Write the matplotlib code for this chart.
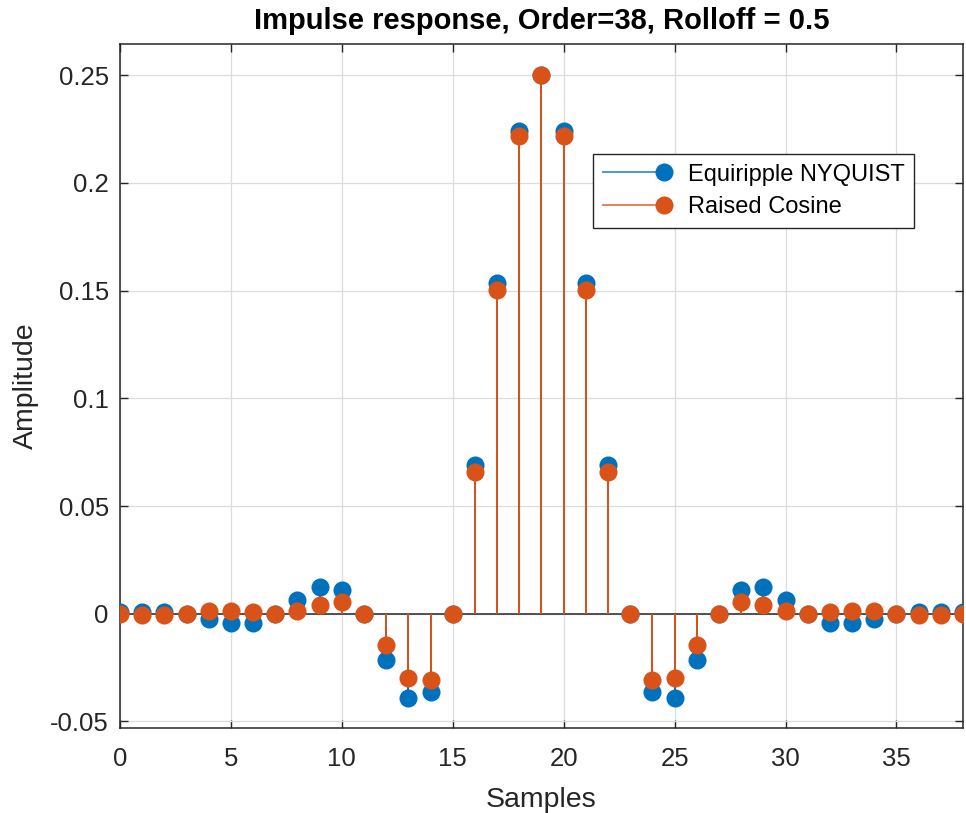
import numpy as np
import matplotlib.pyplot as plt
from matplotlib.lines import Line2D
from matplotlib.legend_handler import HandlerLine2D

plt.rcParams['font.family'] = ['Liberation Sans', 'DejaVu Sans']

# sample index and the two impulse responses
samples = np.arange(39)
equiripple = [0.0008, 0.0008, 0.0006, 0.0, -0.0025, -0.0044, -0.0041, 0.0, 0.0065, 0.0124,
              0.0112, 0.0, -0.0216, -0.0391, -0.0365, 0.0, 0.0692, 0.1535, 0.2242, 0.2500,
              0.2242, 0.1535, 0.0692, 0.0, -0.0365, -0.0391, -0.0216, 0.0, 0.0112, 0.0124,
              0.0065, 0.0, -0.0041, -0.0044, -0.0025, 0.0, 0.0006, 0.0008, 0.0008]
raised_cos = [-0.0002, -0.0006, -0.0007, 0.0, 0.0011, 0.0014, 0.0007, 0.0, 0.0012, 0.0043,
              0.0057, 0.0, -0.0144, -0.0300, -0.0306, 0.0, 0.0656, 0.1501, 0.2218, 0.2500,
              0.2218, 0.1501, 0.0656, 0.0, -0.0306, -0.0300, -0.0144, 0.0, 0.0057, 0.0043,
              0.0012, 0.0, 0.0007, 0.0014, 0.0011, 0.0, -0.0007, -0.0006, -0.0002]

blue = '#0072BD'
orange = '#D95319'
dark = '#262626'

fig = plt.figure(figsize=(9.66, 8.13), dpi=100)
ax = fig.add_axes([0.1242, 0.1046, 0.8727, 0.8413])

z = 2
for vals, col in [(equiripple, blue), (raised_cos, orange)]:
    ax.vlines(samples, 0, vals, color=col, linewidth=1.4, zorder=z)
    ax.plot(samples, vals, 'o', color=col, markersize=13, markeredgewidth=0, zorder=z + 1)
    z += 2
ax.axhline(0, color=dark, linewidth=1.1, zorder=1.5)

ax.set_xlim(0, 38)
ax.set_ylim(-0.053, 0.2645)
ax.set_xticks(np.arange(0, 36, 5))
ax.set_yticks([-0.05, 0, 0.05, 0.1, 0.15, 0.2, 0.25])
ax.set_yticklabels(['-0.05', '0', '0.05', '0.1', '0.15', '0.2', '0.25'])
ax.tick_params(direction='in', top=True, right=True, labelsize=18.5, colors=dark,
               length=6, width=1)
ax.tick_params(axis='x', pad=14)
ax.tick_params(axis='y', pad=8)
for s in ax.spines.values():
    s.set_color(dark)
    s.set_linewidth(1.1)
ax.grid(True, color='#dcdcdc', linewidth=0.9)
ax.set_axisbelow(True)

ax.set_title('Impulse response, Order=38, Rolloff = 0.5', fontsize=21, fontweight='bold', pad=11)
ax.set_xlabel('Samples', fontsize=20.5, color=dark, labelpad=11)
ax.set_ylabel('Amplitude', fontsize=20.5, color=dark, labelpad=8)


class StemHandler(HandlerLine2D):
    def create_artists(self, legend, orig_handle, xdescent, ydescent, width, height, fontsize, trans):
        arts = super().create_artists(legend, orig_handle, xdescent, ydescent, width, height, fontsize, trans)
        for a in arts:
            n = len(a.get_xdata())
            a.set_markevery([n - 1])
        return arts


handles = [Line2D([], [], color='#3f8fcf', lw=1.3, marker='o', markersize=13,
                  markerfacecolor=blue, markeredgewidth=0),
           Line2D([], [], color='#e27a4c', lw=1.3, marker='o', markersize=13,
                  markerfacecolor=orange, markeredgewidth=0)]
leg = ax.legend(handles, ['Equiripple NYQUIST', 'Raised Cosine'], loc='upper right',
                bbox_to_anchor=(0.942, 0.839), fontsize=17, numpoints=1, handlelength=2.6,
                fancybox=False, framealpha=1, edgecolor=dark, borderpad=0.4,
                labelspacing=0.45, handletextpad=1.0, borderaxespad=0,
                handler_map={Line2D: StemHandler()})
leg.get_frame().set_linewidth(1.0)

fig.savefig('out.png', dpi=100)
